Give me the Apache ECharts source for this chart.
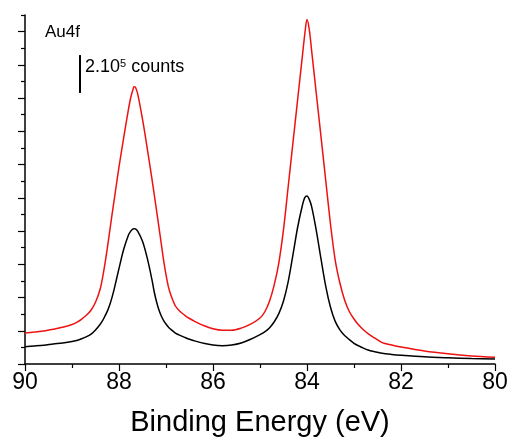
<!DOCTYPE html>
<html>
<head>
<meta charset="utf-8">
<script src="https://cdn.jsdelivr.net/npm/echarts@6/dist/echarts.min.js"></script>
<style>html,body{margin:0;padding:0;background:#fff}#c{width:511px;height:444px}</style>
</head>
<body>
<div id="c"></div>
<script>
// Binding energy grid (eV)
const energy = [90.0,89.8,89.6,89.4,89.2,89.0,88.9,88.8,88.7,88.6,88.5,88.4,88.35,88.3,88.25,88.2,88.15,88.1,88.0,87.9,87.8,87.75,87.7,87.68,87.65,87.6,87.5,87.4,87.3,87.25,87.2,87.15,87.1,87.05,87.0,86.95,86.9,86.8,86.7,86.6,86.5,86.4,86.2,86.0,85.8,85.6,85.4,85.2,85.0,84.9,84.8,84.7,84.6,84.5,84.4,84.3,84.2,84.1,84.05,84.0,83.95,83.9,83.8,83.7,83.6,83.5,83.4,83.3,83.2,83.1,83.0,82.9,82.8,82.7,82.6,82.4,82.2,82.0,81.5,81.0,80.5,80.0];
// Intensity, arbitrary units (one minor y tick = 1 unit)
const redSpectrum = [1.865,1.925,1.986,2.088,2.208,2.377,2.509,2.690,2.918,3.219,3.712,4.513,5.187,6.005,6.937,7.942,8.953,9.922,11.859,13.616,15.301,16.035,16.552,16.685,16.655,16.227,14.729,12.990,11.155,10.186,9.218,8.225,7.226,6.221,5.379,4.657,4.182,3.490,3.159,2.930,2.738,2.581,2.316,2.120,2.030,2.030,2.160,2.395,2.768,3.129,3.761,4.735,6.077,8.081,10.680,13.285,15.884,18.484,19.771,20.722,20.084,18.815,16.215,13.622,11.011,8.411,6.257,4.874,3.851,3.159,2.708,2.347,2.064,1.829,1.637,1.288,1.143,1.023,0.782,0.614,0.487,0.403];
const blackSpectrum = [1.041,1.083,1.131,1.203,1.264,1.348,1.414,1.516,1.631,1.781,2.046,2.395,2.605,2.876,3.165,3.532,3.995,4.537,5.752,6.901,7.744,7.996,8.129,8.141,8.129,7.984,7.383,6.384,5.090,4.332,3.730,3.249,2.888,2.617,2.407,2.226,2.088,1.865,1.721,1.600,1.486,1.396,1.245,1.140,1.100,1.140,1.260,1.486,1.769,1.937,2.172,2.527,3.032,3.791,4.958,6.558,8.213,9.525,9.994,10.108,9.892,9.458,8.002,6.288,4.657,3.412,2.563,2.058,1.715,1.468,1.239,1.089,0.957,0.842,0.764,0.644,0.578,0.529,0.433,0.373,0.325,0.301];
// Scale bar: 2x10^5 counts
const scaleBarX = [88.83, 88.83];
const scaleBarY = [16.31, 18.59];
const xTickLabels = [80, 82, 84, 86, 88, 90];
const yMajorTicks = [0,2,4,6,8,10,12,14,16,18,20];
const yMinorTicks = [1,3,5,7,9,11,13,15,17,19,21];

const pairs = (xs, ys) => xs.map((x, i) => [x, ys[i]]);
const FONT = 'Liberation Sans, Arial, sans-serif';

const chart = echarts.init(document.getElementById('c'), null, {renderer: 'canvas'});
chart.setOption({
  animation: false,
  backgroundColor: '#fff',
  grid: {left: 25, right: 16, top: 15, bottom: 80, containLabel: false},
  xAxis: {
    type: 'value', min: 80, max: 90, interval: 2, inverse: true,
    axisLine: {lineStyle: {color: '#000', width: 1.5}},
    axisTick: {length: 7, lineStyle: {color: '#000', width: 1.2}, customValues: xTickLabels},
    minorTick: {show: true, splitNumber: 2, length: 4, lineStyle: {color: '#000', width: 1.2}},
    splitLine: {show: false},
    axisLabel: {color: '#000', fontSize: 23, fontFamily: FONT, margin: 7, customValues: xTickLabels},
    name: 'Binding Energy (eV)', nameLocation: 'middle', nameGap: 44,
    nameTextStyle: {color: '#000', fontSize: 29, fontFamily: FONT}
  },
  yAxis: [
    {type: 'value', min: 0, max: 21, position: 'left',
     axisLine: {show: true, lineStyle: {color: '#000', width: 1.5}},
     axisTick: {show: true, length: 7, customValues: yMajorTicks, lineStyle: {color: '#000', width: 1.2}},
     axisLabel: {show: false}, splitLine: {show: false}},
    {type: 'value', min: 0, max: 21, position: 'left', offset: 0,
     axisLine: {show: false},
     axisTick: {show: true, length: 4, customValues: yMinorTicks, lineStyle: {color: '#000', width: 1.2}},
     axisLabel: {show: false}, splitLine: {show: false}}
  ],
  series: [
    {type: 'line', data: pairs(energy, blackSpectrum), showSymbol: false, smooth: 0.3,
     lineStyle: {color: '#000', width: 1.5}, z: 3},
    {type: 'line', data: pairs(energy, redSpectrum), showSymbol: false, smooth: 0.3,
     lineStyle: {color: '#ee1111', width: 1.5}, z: 4},
    {type: 'line', data: pairs(scaleBarX, scaleBarY), showSymbol: false,
     lineStyle: {color: '#000', width: 2}, z: 5}
  ],
  graphic: [
    {type: 'text', left: 45, top: 24, style: {text: 'Au4f', fill: '#000', font: '17px ' + FONT}},
    {type: 'text', left: 85, top: 58, style: {
      text: '2.10{sup|5} counts', fill: '#000', font: '18px ' + FONT,
      rich: {sup: {fontSize: 11, fontFamily: FONT, verticalAlign: 'top', padding: [0, 0, 8, 0], fill: '#000'}}
    }}
  ]
});
</script>
</body>
</html>
